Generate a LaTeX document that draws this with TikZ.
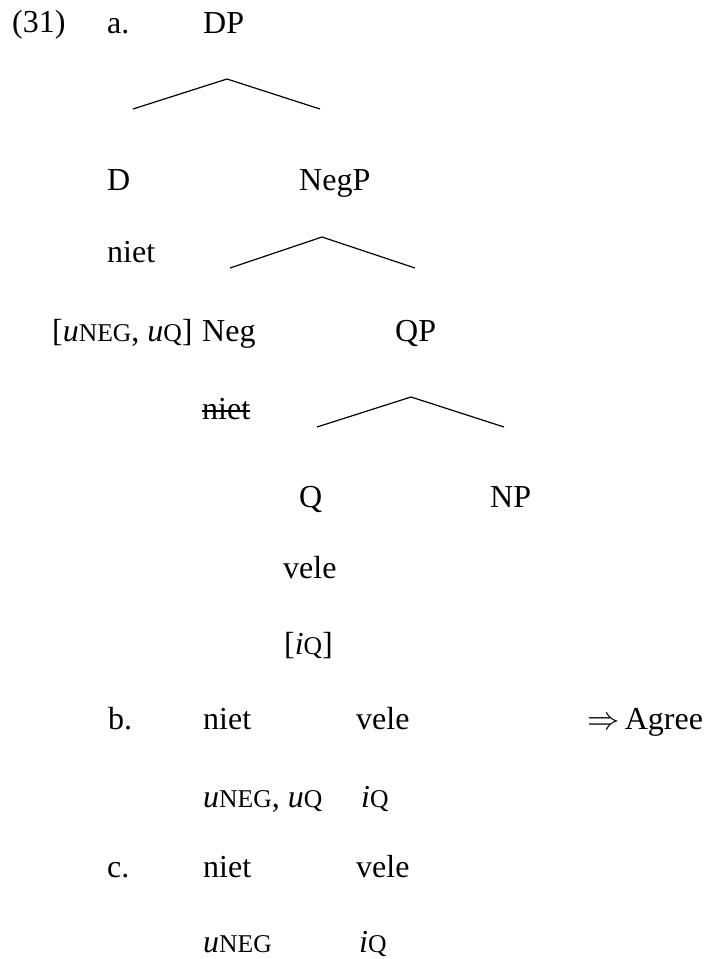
\documentclass[tikz,border=0pt]{standalone}
\usepackage{fontspec}
\setmainfont{Liberation Serif}
\newcommand{\fsc}[1]{{\fontsize{25.6}{30}\selectfont #1}}
\begin{document}
\begin{tikzpicture}[x=1pt,y=-1pt,
  lbl/.style={anchor=base west,inner sep=0pt,font=\fontsize{32}{38}\selectfont},
  branch/.style={line width=1.2pt,line join=miter}]
\useasboundingbox (0,0) rectangle (705,959);
% row a
\node[lbl] (ex) at (12,32) {(31)};
\node[lbl] (la) at (107,33) {a.};
\node[lbl] (dp) at (203,33) {DP};
\coordinate (dpL) at (133,109);
\coordinate (dpA) at (227,79);
\coordinate (dpR) at (320,109);
\draw[branch] (dpL) -- (dpA) -- (dpR);
\node[lbl] (d) at (107,190) {D};
\node[lbl] (negp) at (299,190) {NegP};
\node[lbl] (niet1) at (107,262) {niet};
\coordinate (npL) at (230,268);
\coordinate (npA) at (322,237);
\coordinate (npR) at (415,268);
\draw[branch] (npL) -- (npA) -- (npR);
\node[lbl] (feat1) at (52,341) {[\textit{u}\fsc{NEG}, \textit{u}\fsc{Q}]};
\node[lbl] (neg) at (202,341) {Neg};
\node[lbl] (qp) at (395,341) {QP};
\node[lbl] (niet2) at (202,419) {niet};
\draw[line width=1.3pt] ([yshift=8pt]niet2.base west) -- ([yshift=8pt]niet2.base east);
\coordinate (qpL) at (317,427);
\coordinate (qpA) at (411,397);
\coordinate (qpR) at (504,427);
\draw[branch] (qpL) -- (qpA) -- (qpR);
\node[lbl] (q) at (299,507) {Q};
\node[lbl] (np) at (490,507) {NP};
\node[lbl] (vele1) at (283,578) {vele};
\node[lbl] (iq1) at (284,654) {[\textit{i}\fsc{Q}]};
% row b
\node[lbl] (lb) at (108,729) {b.};
\node[lbl] (nietb) at (203,729) {niet};
\node[lbl] (veleb) at (356,729) {vele};
\node[lbl] (agree) at (587,729) {\scalebox{1.3}{$\Rightarrow$}\,Agree};
\node[lbl] (fb1) at (203,807) {\textit{u}\fsc{NEG}, \textit{u}\fsc{Q}};
\node[lbl] (fb2) at (361,807) {\textit{i}\fsc{Q}};
% row c
\node[lbl] (lc) at (107,877) {c.};
\node[lbl] (nietc) at (203,877) {niet};
\node[lbl] (velec) at (356,877) {vele};
\node[lbl] (fc1) at (203,952) {\textit{u}\fsc{NEG}};
\node[lbl] (fc2) at (359,952) {\textit{i}\fsc{Q}};
\end{tikzpicture}
\end{document}
